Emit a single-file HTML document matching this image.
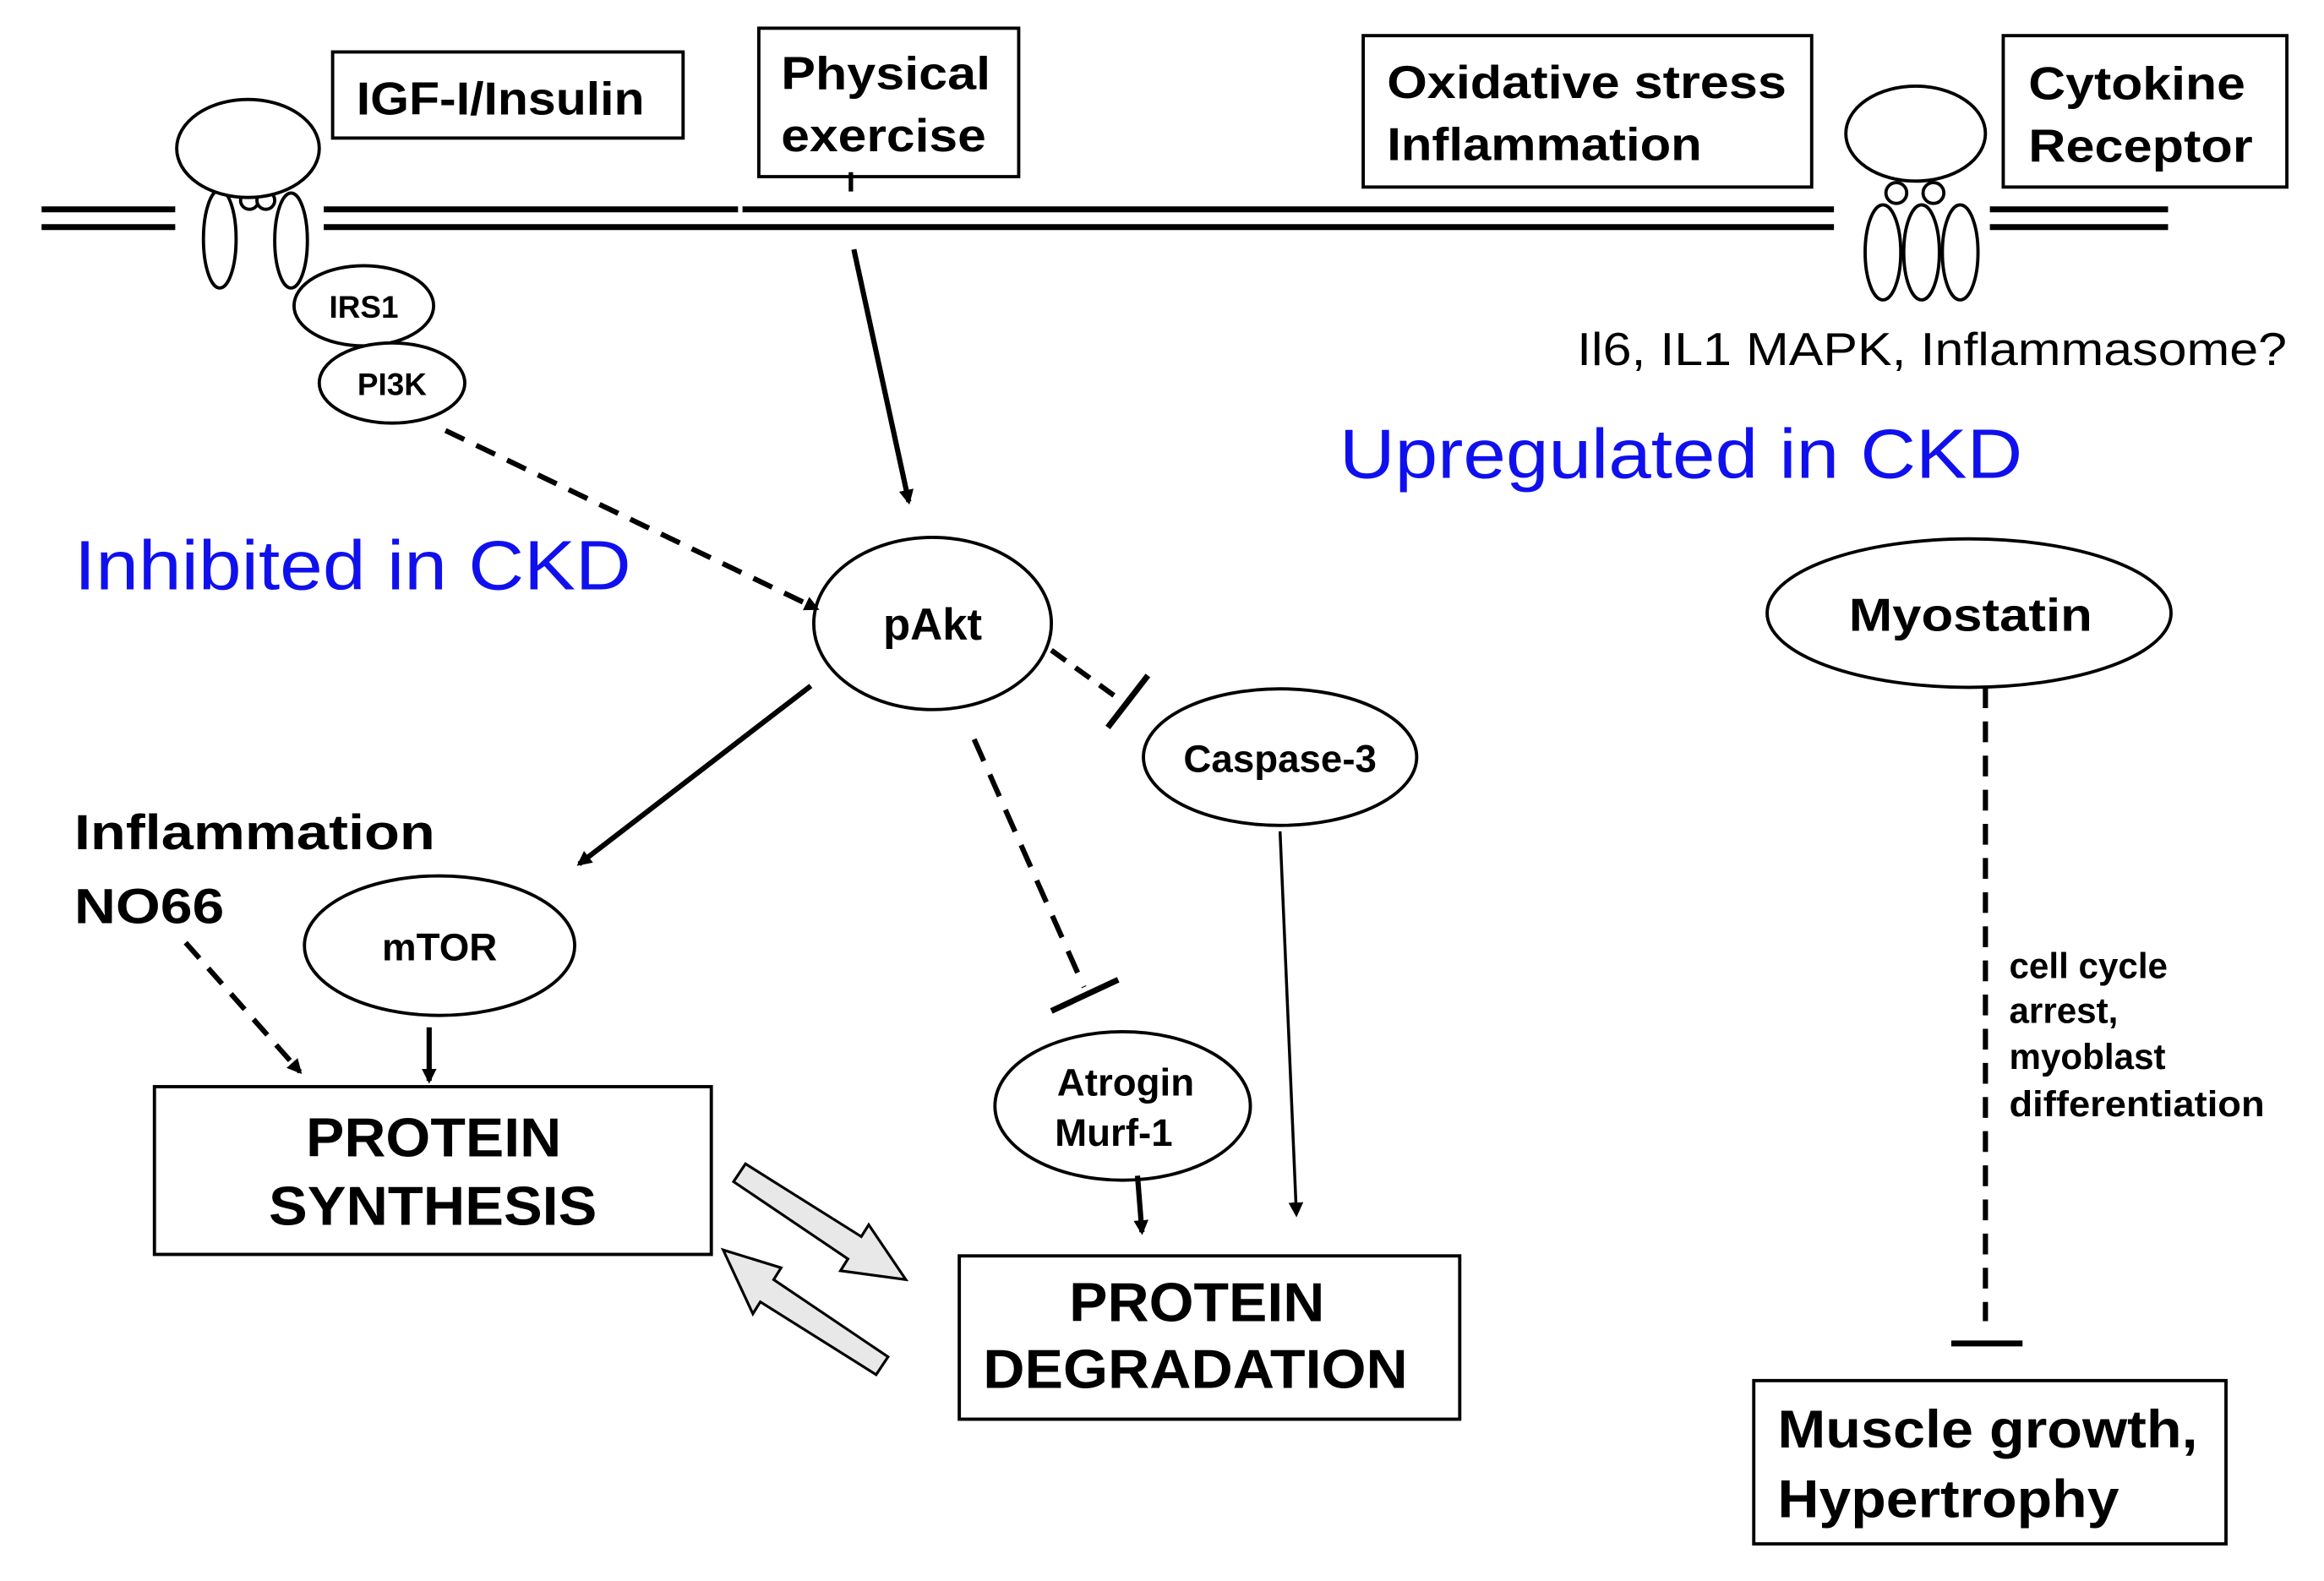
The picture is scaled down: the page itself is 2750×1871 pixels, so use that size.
<!DOCTYPE html>
<html><head><meta charset="utf-8"><style>html,body{margin:0;padding:0;background:#fff}svg{display:block}</style></head>
<body>
<svg width="2750" height="1871" viewBox="0 0 1565 1065" preserveAspectRatio="none" xmlns="http://www.w3.org/2000/svg" font-family="'Liberation Sans', sans-serif">
<defs>
<marker id="ah" markerWidth="10" markerHeight="10" refX="8" refY="5" orient="auto" markerUnits="userSpaceOnUse"><path d="M0,0 L10,5 L0,10 z" fill="#000"/></marker>
</defs>
<g stroke="#000" stroke-width="4">
<line x1="28" y1="141" x2="118" y2="141"/><line x1="28" y1="153" x2="118" y2="153"/>
<line x1="218" y1="141" x2="497" y2="141"/><line x1="500" y1="141" x2="1235" y2="141"/>
<line x1="218" y1="153" x2="1235" y2="153"/>
<line x1="1340" y1="141" x2="1460" y2="141"/><line x1="1340" y1="153" x2="1460" y2="153"/>
</g>
<g fill="#fff" stroke="#000" stroke-width="2.2">
<ellipse cx="148" cy="161" rx="11" ry="33"/><ellipse cx="196" cy="162" rx="11" ry="32"/>
<circle cx="168" cy="135" r="6"/><circle cx="179" cy="135" r="6"/>
<ellipse cx="167" cy="100" rx="48" ry="33"/>
<ellipse cx="245" cy="206" rx="47" ry="27"/><ellipse cx="264" cy="258" rx="49" ry="27"/>
<ellipse cx="1268" cy="170" rx="12" ry="32"/><ellipse cx="1294" cy="170" rx="12" ry="32"/><ellipse cx="1320" cy="170" rx="12" ry="32"/>
<circle cx="1277" cy="130" r="7"/><circle cx="1302" cy="130" r="7"/>
<ellipse cx="1290" cy="90" rx="47" ry="32"/>
<ellipse cx="628" cy="420" rx="80" ry="58"/>
<ellipse cx="862" cy="510" rx="92" ry="46"/>
<ellipse cx="296" cy="637" rx="91" ry="47"/>
<ellipse cx="756" cy="745" rx="86" ry="50"/>
<ellipse cx="1326" cy="413" rx="136" ry="50"/>
<rect x="224" y="35" width="236" height="58"/>
<rect x="511" y="19" width="175" height="100"/>
<rect x="918" y="24" width="302" height="102"/>
<rect x="1349" y="24" width="191" height="102"/>
<rect x="104" y="732" width="375" height="113"/>
<rect x="646" y="846" width="337" height="110"/>
<rect x="1181" y="930" width="318" height="110"/>
</g>
<line x1="573" y1="116" x2="573" y2="129" stroke="#000" stroke-width="3"/>
<g stroke="#000" fill="none">
<line x1="575" y1="168" x2="612" y2="338" stroke-width="3.5" marker-end="url(#ah)"/>
<line x1="300" y1="290" x2="550" y2="410" stroke-width="3.5" stroke-dasharray="14,9" marker-end="url(#ah)"/>
<line x1="708" y1="438" x2="755" y2="472" stroke-width="3.5" stroke-dasharray="12,8"/>
<line x1="746" y1="490" x2="773" y2="455" stroke-width="4"/>
<line x1="862" y1="560" x2="873" y2="818" stroke-width="2" marker-end="url(#ah)"/>
<line x1="546" y1="462" x2="390" y2="582" stroke-width="3.5" marker-end="url(#ah)"/>
<line x1="656" y1="498" x2="730" y2="665" stroke-width="3.5" stroke-dasharray="16,10"/>
<line x1="708" y1="681" x2="753" y2="660" stroke-width="4"/>
<line x1="766" y1="792" x2="769" y2="830" stroke-width="3.5" marker-end="url(#ah)"/>
<line x1="289" y1="692" x2="289" y2="728" stroke-width="3.5" marker-end="url(#ah)"/>
<line x1="125" y1="635" x2="202" y2="722" stroke-width="3.5" stroke-dasharray="14,9" marker-end="url(#ah)"/>
<line x1="1337" y1="463" x2="1337" y2="890" stroke-width="3.5" stroke-dasharray="14,9"/>
<line x1="1314" y1="905" x2="1362" y2="905" stroke-width="4"/>
</g>
<g fill="#e8e8e8" stroke="#000" stroke-width="1.8">
<polygon points="494,796 502,784 580,833 585,825 610,862 566,856 571,848"/>
<polygon points="598,914 590,926 512,877 507,885 487,842 526,854 521,862"/>
</g>
<g font-weight="bold" fill="#000">
<text x="240" y="77" font-size="31" textLength="194" lengthAdjust="spacingAndGlyphs">IGF-I/Insulin</text>
<text x="526" y="60" font-size="31" textLength="141" lengthAdjust="spacingAndGlyphs">Physical</text><text x="526" y="102" font-size="31" textLength="138" lengthAdjust="spacingAndGlyphs">exercise</text>
<text x="934" y="66" font-size="31" textLength="269" lengthAdjust="spacingAndGlyphs">Oxidative stress</text><text x="934" y="108" font-size="31" textLength="212" lengthAdjust="spacingAndGlyphs">Inflammation</text>
<text x="1366" y="67" font-size="31" textLength="146" lengthAdjust="spacingAndGlyphs">Cytokine</text><text x="1366" y="109" font-size="31" textLength="151" lengthAdjust="spacingAndGlyphs">Receptor</text>
<text x="245" y="214" font-size="21" text-anchor="middle">IRS1</text>
<text x="264" y="266" font-size="21" text-anchor="middle">PI3K</text>
<text x="628" y="431" font-size="30" text-anchor="middle">pAkt</text>
<text x="862" y="520" font-size="26" text-anchor="middle">Caspase-3</text>
<text x="296" y="647" font-size="26" text-anchor="middle">mTOR</text>
<text x="758" y="738" font-size="26" text-anchor="middle">Atrogin</text><text x="750" y="772" font-size="26" text-anchor="middle">Murf-1</text>
<text x="1245" y="425" font-size="31" textLength="164" lengthAdjust="spacingAndGlyphs">Myostatin</text>
<text x="50" y="572" font-size="33" textLength="243" lengthAdjust="spacingAndGlyphs">Inflammation</text><text x="50" y="622" font-size="33" textLength="101" lengthAdjust="spacingAndGlyphs">NO66</text>
<text x="206" y="779" font-size="37" textLength="172" lengthAdjust="spacingAndGlyphs">PROTEIN</text><text x="181" y="825" font-size="37" textLength="221" lengthAdjust="spacingAndGlyphs">SYNTHESIS</text>
<text x="720" y="890" font-size="37" textLength="172" lengthAdjust="spacingAndGlyphs">PROTEIN</text><text x="662" y="935" font-size="37" textLength="286" lengthAdjust="spacingAndGlyphs">DEGRADATION</text>
<text x="1197" y="975" font-size="36" textLength="283" lengthAdjust="spacingAndGlyphs">Muscle growth,</text><text x="1197" y="1022" font-size="36" textLength="230" lengthAdjust="spacingAndGlyphs">Hypertrophy</text>
<g font-size="24"><text x="1353" y="659">cell cycle</text><text x="1353" y="689">arrest,</text><text x="1353" y="720">myoblast</text><text x="1353" y="752" textLength="172" lengthAdjust="spacingAndGlyphs">differentiation</text></g>
</g>
<text x="1062" y="246" font-size="31" fill="#000" textLength="478" lengthAdjust="spacingAndGlyphs">Il6, IL1 MAPK, Inflammasome?</text>
<text x="902" y="322" font-size="47" fill="#1010ee" textLength="460" lengthAdjust="spacingAndGlyphs">Upregulated in CKD</text>
<text x="50" y="397" font-size="47" fill="#1010ee" textLength="375" lengthAdjust="spacingAndGlyphs">Inhibited in CKD</text>
</svg>
</body></html>
